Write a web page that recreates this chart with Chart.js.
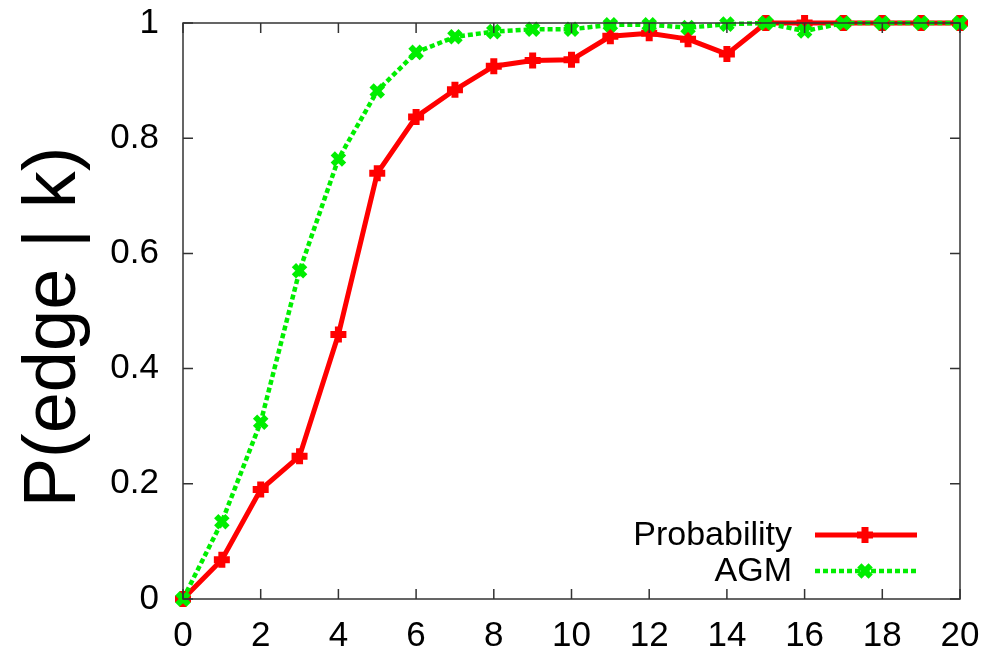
<!DOCTYPE html>
<html>
<head>
<meta charset="utf-8">
<script src="https://cdn.jsdelivr.net/npm/chart.js@4.4.0/dist/chart.umd.min.js"></script>
<style>
  html, body { margin: 0; padding: 0; background: #fff; }
  #wrap { width: 990px; height: 653px; }
</style>
</head>
<body>
<div id="wrap"><canvas id="myChart" width="990" height="653"></canvas></div>
<script>
// datos
const kValues = [0,1,2,3,4,5,6,7,8,9,10,11,12,13,14,15,16,17,18,19,20];
const probValues = [0, 0.068, 0.19, 0.248, 0.459, 0.739, 0.837, 0.884, 0.925, 0.935, 0.936,
                    0.977, 0.982, 0.972, 0.946, 1.0, 1.0, 1.0, 1.0, 1.0, 1.0];
const agmValues = [0, 0.134, 0.307, 0.570, 0.764, 0.882, 0.949, 0.976, 0.985, 0.989, 0.989,
                   0.997, 0.997, 0.992, 0.998, 1.0, 0.986, 1.0, 1.0, 1.0, 1.0];
const xTicks = [0,2,4,6,8,10,12,14,16,18,20];
const yTicks = [0,0.2,0.4,0.6,0.8,1];
const seriesNames = ["Probability", "AGM"];
const yTitle = "P(edge | k)";

const FONT = "'Liberation Sans', Arial, sans-serif";

// marco con ticks hacia adentro (estilo gnuplot) + titulo + leyenda
const gnuFrame = {
  id: 'gnuFrame',
  afterDraw(chart) {
    const ctx = chart.ctx;
    const a = chart.chartArea;
    const xs = chart.scales.x, ys = chart.scales.y;
    ctx.save();
    ctx.strokeStyle = '#333';
    ctx.lineWidth = 1.5;
    ctx.strokeRect(a.left, a.top, a.right - a.left, a.bottom - a.top);
    ctx.beginPath();
    xTicks.forEach(v => {
      const px = xs.getPixelForValue(v);
      ctx.moveTo(px, a.bottom); ctx.lineTo(px, a.bottom - 10);
      ctx.moveTo(px, a.top); ctx.lineTo(px, a.top + 10);
    });
    yTicks.forEach(v => {
      const py = ys.getPixelForValue(v);
      ctx.moveTo(a.left, py); ctx.lineTo(a.left + 10, py);
      ctx.moveTo(a.right, py); ctx.lineTo(a.right - 10, py);
    });
    ctx.stroke();
    ctx.restore();

    // titulo eje y
    ctx.save();
    ctx.fillStyle = '#000';
    ctx.font = "74px " + FONT;
    ctx.translate(75, 327);
    ctx.rotate(-Math.PI / 2);
    ctx.textAlign = 'center';
    ctx.textBaseline = 'alphabetic';
    ctx.fillText(yTitle, 0, 0);
    ctx.restore();

    // leyenda
    ctx.save();
    ctx.font = "34px " + FONT;
    ctx.fillStyle = '#000';
    ctx.textAlign = 'right';
    ctx.textBaseline = 'middle';
    const rows = [535, 571];
    chart.data.datasets.forEach((ds, i) => {
      const y = rows[i];
      ctx.fillText(ds.label, 792, y + 1);
      ctx.strokeStyle = ds.borderColor;
      ctx.lineWidth = ds.borderWidth;
      ctx.setLineDash(ds.borderDash || []);
      ctx.beginPath();
      ctx.moveTo(815, y); ctx.lineTo(917, y);
      ctx.stroke();
      ctx.setLineDash([]);
      ctx.lineWidth = ds.pointBorderWidth;
      Chart.helpers.drawPoint(ctx, {pointStyle: ds.pointStyle, radius: ds.pointRadius, borderWidth: ds.pointBorderWidth, rotation: 0}, 865, y);
    });
    ctx.restore();
  }
};

const ctx = document.getElementById('myChart').getContext('2d');
const myChart = new Chart(ctx, {
  type: 'line',
  data: {
    labels: kValues,
    datasets: [{
      label: seriesNames[0],
      data: kValues.map((k, i) => ({x: k, y: probValues[i]})),
      borderColor: '#ff0000',
      backgroundColor: '#ff0000',
      borderWidth: 5,
      pointStyle: 'cross',
      pointRadius: 8,
      pointBorderWidth: 7,
      pointBackgroundColor: '#ff0000',
      pointBorderColor: '#ff0000',
      tension: 0,
      clip: false,
      order: 1
    }, {
      label: seriesNames[1],
      data: kValues.map((k, i) => ({x: k, y: agmValues[i]})),
      borderColor: '#00ee00',
      backgroundColor: '#00ee00',
      borderWidth: 4.5,
      borderDash: [5, 3],
      pointStyle: 'crossRot',
      pointRadius: 8,
      pointBorderWidth: 6,
      pointBackgroundColor: '#00ee00',
      pointBorderColor: '#00ee00',
      tension: 0,
      clip: false,
      order: 0
    }]
  },
  options: {
    responsive: false,
    animation: false,
    layout: { padding: { left: 0, top: 23, right: 30, bottom: 0 } },
    plugins: {
      legend: { display: false },
      tooltip: { enabled: false }
    },
    scales: {
      x: {
        type: 'linear',
        min: 0,
        max: 20,
        grid: { display: false, drawTicks: false },
        border: { display: false },
        afterBuildTicks: s => { s.ticks = xTicks.map(v => ({value: v})); },
        afterFit: s => { s.height = 54; s.paddingLeft = 0; s.paddingRight = 0; },
        ticks: {
          color: '#000',
          padding: 16,
          maxRotation: 0,
          font: { family: FONT, size: 35 }
        }
      },
      y: {
        min: 0,
        max: 1,
        grid: { display: false, drawTicks: false },
        border: { display: false },
        afterBuildTicks: s => { s.ticks = yTicks.map(v => ({value: v})); },
        afterFit: s => { s.width = 183; s.paddingTop = 0; s.paddingBottom = 0; },
        ticks: {
          color: '#000',
          padding: 24,
          font: { family: FONT, size: 35 },
          callback: v => String(v)
        }
      }
    }
  },
  plugins: [gnuFrame]
});
</script>
</body>
</html>
